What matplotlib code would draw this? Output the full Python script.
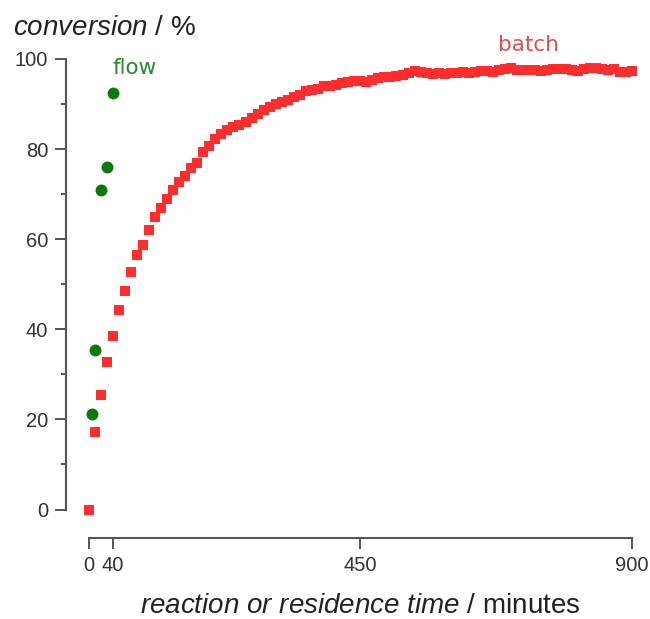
import matplotlib
matplotlib.use('Agg')
import matplotlib.pyplot as plt
import numpy as np

# 데이터
batch_t = np.arange(0, 901, 10)
batch_conv = [0, 17.2, 25.5, 32.8, 38.6, 44.2, 48.4, 52.7, 56.5, 58.7,
              62.0, 65.0, 67.0, 69.0, 71.0, 72.6, 74.0, 75.8, 77.0, 79.3,
              80.7, 82.3, 83.3, 84.2, 85.0, 85.4, 86.0, 86.8, 87.8, 88.7,
              89.3, 90.0, 90.4, 91.0, 91.5, 92.0, 92.8, 93.1, 93.4, 93.9,
              94.0, 94.3, 94.6, 95.0, 95.2, 95.2, 95.0, 95.4, 95.8, 96.0,
              96.1, 96.3, 96.4, 96.8, 97.3, 97.2, 96.9, 96.6, 96.8, 96.7,
              96.8, 96.9, 97.1, 97.0, 97.2, 97.3, 97.4, 97.2, 97.5, 97.7,
              97.9, 97.6, 97.5, 97.6, 97.6, 97.4, 97.6, 97.8, 97.7, 97.8,
              97.6, 97.4, 97.7, 97.9, 98.0, 97.8, 97.6, 97.8, 97.2, 97.1,
              97.3]

flow_t = [5, 10, 20, 30, 40]
flow_conv = [21.3, 35.5, 71.0, 76.0, 92.5]

x_ticks = [0, 40, 450, 900]
y_ticks = [0, 20, 40, 60, 80, 100]
y_minor = [10, 30, 50, 70, 90]

plt.rcParams['font.family'] = 'Liberation Sans'
plt.rcParams['mathtext.fontset'] = 'custom'
plt.rcParams['mathtext.it'] = 'Liberation Sans:italic'
plt.rcParams['mathtext.rm'] = 'Liberation Sans'

fig = plt.figure(figsize=(6.5, 6.19), dpi=100)
ax = fig.add_axes([88.5 / 650, 1 - 509.5 / 619, (632 - 88.5) / 650, (509.5 - 59) / 619])

ax.plot(batch_t, batch_conv, linestyle='none', marker='s', markersize=7.6,
        color='#ff2d2d', markeredgewidth=0, clip_on=False)
ax.plot(flow_t, flow_conv, linestyle='none', marker='o', markersize=8.6,
        color='#0b7a0b', markeredgewidth=0, clip_on=False)

ax.set_xlim(0, 900)
ax.set_ylim(0, 100)

for s in ['top', 'right']:
    ax.spines[s].set_visible(False)
ax.spines['left'].set_position(('outward', 16))
ax.spines['bottom'].set_position(('outward', 20.5))
for s in ['left', 'bottom']:
    ax.spines[s].set_color('#555555')
    ax.spines[s].set_linewidth(1.5)
ax.spines['left'].set_bounds(0, 100)
ax.spines['bottom'].set_bounds(0, 900)

ax.set_xticks(x_ticks)
ax.set_yticks(y_ticks)
ax.set_yticks(y_minor, minor=True)
ax.tick_params(axis='both', which='major', length=8, width=1.4,
               color='#555555', labelsize=14.5, labelcolor='#333333', pad=5)
ax.tick_params(axis='y', which='minor', length=3.8, width=1.4, color='#555555')

ax.set_xlabel(r'$\it{reaction\ or\ residence\ time}$ / minutes',
              fontsize=20, color='#222222', labelpad=13)
fig.text(13 / 650, 1 - 28 / 619, r'$\it{conversion}$ / %', fontsize=20,
         color='#222222', ha='left', va='center')

ax.text(729, 103.1, 'batch', family='DejaVu Sans', fontsize=15.5,
        color='#e05050', ha='center', va='center', clip_on=False)
ax.text(77, 98, 'flow', family='DejaVu Sans', fontsize=15.5,
        color='#2a8a2a', ha='center', va='center', clip_on=False)

fig.savefig('out.png', dpi=100)
